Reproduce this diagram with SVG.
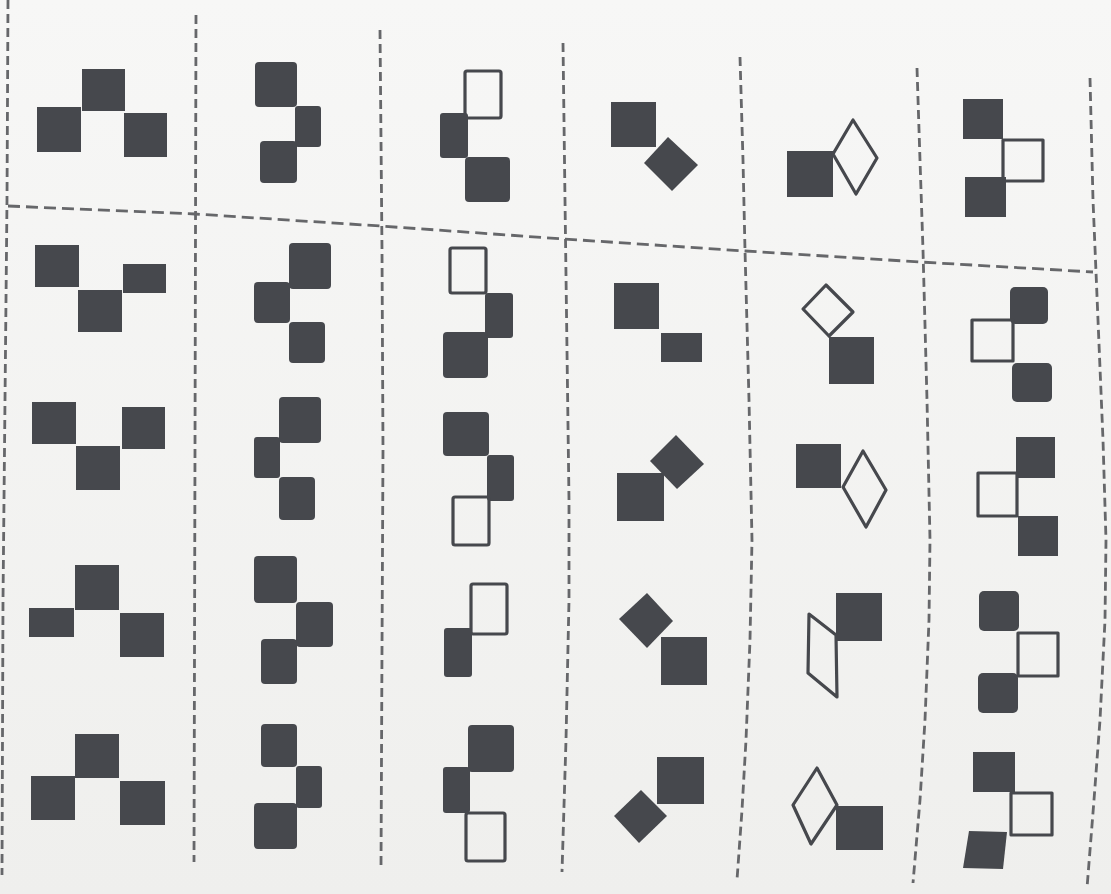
<svg xmlns="http://www.w3.org/2000/svg" width="1111" height="894" viewBox="0 0 1111 894">
<style>
.f{fill:#46484d}
.o{fill:none;stroke:#46484d;stroke-width:3.2;stroke-linejoin:round}
.dv{fill:none;stroke:#66676a;stroke-width:2.8;stroke-dasharray:9 5;stroke-linejoin:round}
.dh{fill:none;stroke:#66676a;stroke-width:2.8;stroke-dasharray:12 6;stroke-linejoin:round}
</style>
<defs>
<linearGradient id="bg" x1="0" y1="0" x2="0" y2="1">
<stop offset="0" stop-color="#f7f7f6"/>
<stop offset="1" stop-color="#efefed"/>
</linearGradient>
</defs>
<rect width="1111" height="894" fill="url(#bg)"/>
<g id="grid">
<polyline class="dv" points="8,0 7,200 5,400 3,600 2,875"/>
<polyline class="dv" points="196,15 195,450 194,862"/>
<polyline class="dv" points="380,30 382,250 383,450 382,650 381,868"/>
<polyline class="dv" points="563,43 565,200 567,350 569,500 569,600 566,740 562,872"/>
<polyline class="dv" points="740,57 743,160 745,250 749,400 752,540 750,640 746,740 742,810 737,880"/>
<polyline class="dv" points="917,68 920,160 923,250 927,400 930,540 929,620 925,720 920,800 913,883"/>
<polyline class="dv" points="1090,78 1093,200 1098,320 1103,440 1106,540 1105,620 1100,720 1094,800 1087,888"/>
<polyline class="dh" points="8,206 195,214 380,226 564,239 745,251 920,262 1093,272"/>
</g>
<!-- Row 1 -->
<g id="r1c1">
<rect class="f" x="82" y="69" width="43" height="42"/>
<rect class="f" x="37" y="107" width="44" height="45"/>
<rect class="f" x="124" y="113" width="43" height="44"/>
</g>
<g id="r1c2">
<rect class="f" x="255" y="62" width="42" height="45" rx="4"/>
<rect class="f" x="295" y="106" width="26" height="41" rx="3"/>
<rect class="f" x="260" y="141" width="37" height="42" rx="4"/>
</g>
<g id="r1c3">
<rect class="o" x="465" y="71" width="36" height="47" rx="2"/>
<rect class="f" x="440" y="113" width="28" height="45" rx="3"/>
<rect class="f" x="465" y="157" width="45" height="45" rx="4"/>
</g>
<g id="r1c4">
<rect class="f" x="611" y="102" width="45" height="45"/>
<polygon class="f" points="668,137 698,165 672,191 644,163"/>
</g>
<g id="r1c5">
<rect class="f" x="787" y="151" width="46" height="46"/>
<polygon class="o" points="853,120 877,158 856,194 833,154"/>
</g>
<g id="r1c6">
<rect class="f" x="963" y="99" width="40" height="40"/>
<rect class="o" x="1003" y="140" width="40" height="41"/>
<rect class="f" x="965" y="177" width="41" height="40"/>
</g>
<!-- Row 2 -->
<g id="r2c1">
<rect class="f" x="35" y="245" width="44" height="42"/>
<rect class="f" x="78" y="290" width="44" height="42"/>
<rect class="f" x="123" y="264" width="43" height="29"/>
</g>
<g id="r2c2">
<rect class="f" x="289" y="243" width="42" height="46" rx="4"/>
<rect class="f" x="254" y="282" width="36" height="41" rx="4"/>
<rect class="f" x="289" y="322" width="36" height="41" rx="4"/>
</g>
<g id="r2c3">
<rect class="o" x="450" y="248" width="36" height="45" rx="2"/>
<rect class="f" x="485" y="293" width="28" height="45" rx="3"/>
<rect class="f" x="443" y="332" width="45" height="46" rx="4"/>
</g>
<g id="r2c4">
<rect class="f" x="614" y="283" width="45" height="46"/>
<rect class="f" x="661" y="333" width="41" height="29"/>
</g>
<g id="r2c5">
<polygon class="o" points="826,285 853,312 829,336 803,309"/>
<rect class="f" x="829" y="337" width="45" height="47"/>
</g>
<g id="r2c6">
<rect class="f" x="1010" y="287" width="38" height="37" rx="5"/>
<rect class="o" x="972" y="320" width="41" height="41"/>
<rect class="f" x="1012" y="363" width="40" height="39" rx="5"/>
</g>
<!-- Row 3 -->
<g id="r3c1">
<rect class="f" x="32" y="402" width="44" height="42"/>
<rect class="f" x="76" y="446" width="44" height="44"/>
<rect class="f" x="122" y="407" width="43" height="42"/>
</g>
<g id="r3c2">
<rect class="f" x="279" y="397" width="42" height="46" rx="4"/>
<rect class="f" x="254" y="437" width="26" height="41" rx="3"/>
<rect class="f" x="279" y="477" width="36" height="43" rx="4"/>
</g>
<g id="r3c3">
<rect class="f" x="443" y="412" width="46" height="44" rx="4"/>
<rect class="f" x="487" y="455" width="27" height="46" rx="3"/>
<rect class="o" x="453" y="497" width="36" height="48" rx="2"/>
</g>
<g id="r3c4">
<rect class="f" x="617" y="473" width="47" height="48"/>
<polygon class="f" points="676,435 704,464 677,489 650,461"/>
</g>
<g id="r3c5">
<rect class="f" x="796" y="444" width="45" height="44"/>
<polygon class="o" points="863,451 886,490 866,527 843,487"/>
</g>
<g id="r3c6">
<rect class="f" x="1016" y="437" width="39" height="41"/>
<rect class="o" x="978" y="473" width="39" height="43"/>
<rect class="f" x="1018" y="516" width="40" height="40"/>
</g>
<!-- Row 4 -->
<g id="r4c1">
<rect class="f" x="75" y="565" width="44" height="45"/>
<rect class="f" x="29" y="608" width="45" height="29"/>
<rect class="f" x="120" y="613" width="44" height="44"/>
</g>
<g id="r4c2">
<rect class="f" x="254" y="556" width="43" height="47" rx="4"/>
<rect class="f" x="296" y="602" width="37" height="45" rx="4"/>
<rect class="f" x="261" y="639" width="36" height="45" rx="4"/>
</g>
<g id="r4c3">
<rect class="o" x="471" y="584" width="36" height="50" rx="2"/>
<rect class="f" x="444" y="628" width="28" height="49" rx="3"/>
</g>
<g id="r4c4">
<polygon class="f" points="647,593 673,621 647,648 619,619"/>
<rect class="f" x="661" y="637" width="46" height="48"/>
</g>
<g id="r4c5">
<rect class="f" x="836" y="593" width="46" height="48"/>
<polygon class="o" points="809,614 836,635 837,697 808,673"/>
</g>
<g id="r4c6">
<rect class="f" x="979" y="591" width="40" height="40" rx="5"/>
<rect class="o" x="1018" y="633" width="40" height="43"/>
<rect class="f" x="978" y="673" width="40" height="40" rx="5"/>
</g>
<!-- Row 5 -->
<g id="r5c1">
<rect class="f" x="75" y="734" width="44" height="44"/>
<rect class="f" x="31" y="776" width="44" height="44"/>
<rect class="f" x="120" y="781" width="45" height="44"/>
</g>
<g id="r5c2">
<rect class="f" x="261" y="724" width="36" height="43" rx="4"/>
<rect class="f" x="296" y="766" width="26" height="42" rx="3"/>
<rect class="f" x="254" y="803" width="43" height="46" rx="4"/>
</g>
<g id="r5c3">
<rect class="f" x="468" y="725" width="46" height="47" rx="4"/>
<rect class="f" x="443" y="767" width="27" height="46" rx="3"/>
<rect class="o" x="466" y="813" width="39" height="48" rx="2"/>
</g>
<g id="r5c4">
<rect class="f" x="657" y="757" width="47" height="47"/>
<polygon class="f" points="641,790 667,816 639,843 614,816"/>
</g>
<g id="r5c5">
<polygon class="o" points="817,768 837,805 811,844 793,805"/>
<rect class="f" x="836" y="806" width="47" height="44"/>
</g>
<g id="r5c6">
<rect class="f" x="973" y="752" width="42" height="40"/>
<rect class="o" x="1011" y="793" width="41" height="42"/>
<polygon class="f" points="969,831 1007,832 1003,869 963,868"/>
</g>
</svg>
